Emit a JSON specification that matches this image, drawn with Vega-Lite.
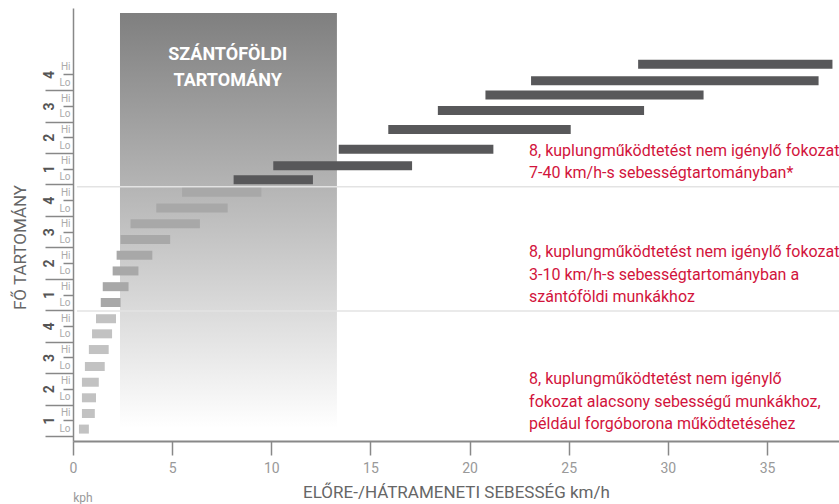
{
  "$schema": "https://vega.github.io/schema/vega-lite/v6.json",
  "width": 766,
  "height": 433,
  "autosize": {"type": "none"},
  "padding": {"left": 73, "top": 8, "right": 0, "bottom": 63},
  "background": "white",
  "config": {"view": {"stroke": null}, "font": "Liberation Sans Narrow, Roboto, sans-serif"},
  "resolve": {"axis": {"x": "independent", "y": "independent"}},
  "layer": [
    {
      "data": {"values": [{"x0": 2.37, "x1": 13.31, "y0": 27.41, "y1": 1.0}]},
      "mark": {"type": "rect", "color": {"gradient": "linear", "x1": 0, "y1": 0, "x2": 0, "y2": 1, "stops": [{"offset": 0, "color": "#7f7f7f"}, {"offset": 1, "color": "#ffffff"}]}},
      "encoding": {
        "x": {"field": "x0", "type": "quantitative", "scale": {"domain": [0, 38.63]},
          "axis": {"orient": "bottom", "values": [0, 5, 10, 15, 20, 25, 30, 35], "title": "ELŐRE-/HÁTRAMENETI SEBESSÉG km/h", "grid": false, "labelFlush": false, "tickSize": 14, "tickColor": "#888", "tickWidth": 1.5, "domainColor": "#888", "domainWidth": 2, "labelColor": "#999", "labelFontSize": 14, "labelPadding": 6, "titleColor": "#666", "titleFontSize": 17, "titleFontWeight": "normal", "titlePadding": 9}},
        "x2": {"field": "x1"},
        "y": {"field": "y0", "type": "quantitative", "scale": {"domain": [0.5, 27.41]},
          "axis": {"orient": "left", "values": [0.5, 2.5, 4.5, 6.5, 8.5, 10.5, 12.5, 14.5, 16.5, 18.5, 20.5, 22.5], "labels": false, "ticks": true, "tickSize": 28, "tickColor": "#888", "tickWidth": 1.5, "domain": false, "grid": false, "title": null}},
        "y2": {"field": "y1"}
      }
    },
    {
      "data": {"values": [{"y": 16.35}, {"y": 8.45}]},
      "mark": {"type": "rule", "color": "#e3e3e3", "strokeWidth": 1.5},
      "encoding": {
        "y": {"field": "y", "type": "quantitative", "scale": {"domain": [0.5, 27.41]},
          "axis": {"orient": "left", "values": [1.5, 3.5, 5.5, 7.5, 9.5, 11.5, 13.5, 15.5, 17.5, 19.5, 21.5, 23.5], "labels": false, "tickSize": 10, "tickColor": "#888", "tickWidth": 1.5, "domain": false, "grid": false, "title": null}},
        "x": {"datum": 0.2, "type": "quantitative", "scale": {"domain": [0, 38.63]}, "axis": null},
        "x2": {"datum": 38.63}
      }
    },
    {
      "data": {"values": [
        {"pos": 24.15, "start": 28.5, "end": 38.3, "sec": "A"},
        {"pos": 23.1, "start": 23.1, "end": 37.6, "sec": "A"},
        {"pos": 22.2, "start": 20.8, "end": 31.8, "sec": "A"},
        {"pos": 21.2, "start": 18.4, "end": 28.8, "sec": "A"},
        {"pos": 20.0, "start": 15.9, "end": 25.1, "sec": "A"},
        {"pos": 18.75, "start": 13.4, "end": 21.2, "sec": "A"},
        {"pos": 17.7, "start": 10.1, "end": 17.1, "sec": "A"},
        {"pos": 16.8, "start": 8.1, "end": 12.1, "sec": "A"},
        {"pos": 16, "start": 5.5, "end": 9.5, "sec": "B"},
        {"pos": 15, "start": 4.2, "end": 7.8, "sec": "B"},
        {"pos": 14, "start": 2.9, "end": 6.4, "sec": "B"},
        {"pos": 13, "start": 2.4, "end": 4.9, "sec": "B"},
        {"pos": 12, "start": 2.2, "end": 4.0, "sec": "B"},
        {"pos": 11, "start": 2.0, "end": 3.3, "sec": "B"},
        {"pos": 10, "start": 1.5, "end": 2.8, "sec": "B"},
        {"pos": 9, "start": 1.4, "end": 2.4, "sec": "B"},
        {"pos": 7.96, "start": 1.16, "end": 2.17, "sec": "C"},
        {"pos": 7.0, "start": 0.96, "end": 1.97, "sec": "C"},
        {"pos": 6.0, "start": 0.8, "end": 1.8, "sec": "C"},
        {"pos": 4.92, "start": 0.6, "end": 1.6, "sec": "C"},
        {"pos": 3.92, "start": 0.45, "end": 1.3, "sec": "C"},
        {"pos": 2.93, "start": 0.45, "end": 1.16, "sec": "C"},
        {"pos": 1.93, "start": 0.45, "end": 1.1, "sec": "C"},
        {"pos": 0.94, "start": 0.3, "end": 0.8, "sec": "C"}
      ]},
      "mark": {"type": "bar", "size": 9},
      "encoding": {
        "y": {"field": "pos", "type": "quantitative", "scale": {"domain": [0.5, 27.41]},
          "axis": {"orient": "left", "values": [1, 2, 3, 4, 5, 6, 7, 8, 9, 10, 11, 12, 13, 14, 15, 16, 17, 18, 19, 20, 21, 22, 23, 24], "labelExpr": "datum.value % 2 == 0 ? 'Hi' : 'Lo'", "ticks": false, "tickSize": 0, "labelPadding": 3, "labelColor": "#aaa", "labelFontSize": 10, "domain": true, "domainColor": "#888", "domainWidth": 1.5, "grid": false, "title": null}},
        "x": {"field": "start", "type": "quantitative", "scale": {"domain": [0, 38.63]}, "axis": null},
        "x2": {"field": "end"},
        "color": {"field": "sec", "type": "nominal", "scale": {"domain": ["A", "B", "C"], "range": ["#58585a", "#a8a8a8", "#c2c2c2"]}, "legend": null}
      }
    },
    {
      "data": {"values": [
        {"x": 23.0, "y": 18.65, "t": "8, kuplungműködtetést nem igénylő fokozat"},
        {"x": 23.0, "y": 17.22, "t": "7-40 km/h-s sebességtartományban*"},
        {"x": 23.0, "y": 12.19, "t": "8, kuplungműködtetést nem igénylő fokozat"},
        {"x": 23.0, "y": 10.76, "t": "3-10 km/h-s sebességtartományban a"},
        {"x": 23.0, "y": 9.33, "t": "szántóföldi munkákhoz"},
        {"x": 23.0, "y": 4.11, "t": "8, kuplungműködtetést nem igénylő"},
        {"x": 23.0, "y": 2.68, "t": "fokozat alacsony sebességű munkákhoz,"},
        {"x": 23.0, "y": 1.25, "t": "például forgóborona működtetéséhez"}
      ]},
      "mark": {"type": "text", "align": "left", "baseline": "middle", "fontSize": 16, "color": "#d2143c"},
      "encoding": {
        "x": {"field": "x", "type": "quantitative", "scale": {"domain": [0, 38.63]}, "axis": null},
        "y": {"field": "y", "type": "quantitative", "scale": {"domain": [0.5, 27.41]},
          "axis": {"orient": "left", "values": [1.5, 3.5, 5.5, 7.5, 9.5, 11.5, 13.5, 15.5, 17.5, 19.5, 21.5, 23.5], "labelExpr": "floor(((datum.value - 0.5) % 8) / 2) + 1", "ticks": false, "tickSize": 0, "labelPadding": 24, "labelAngle": -90, "labelAlign": "center", "labelBaseline": "middle", "labelFontWeight": "bold", "labelFontSize": 14, "labelColor": "#555", "domain": false, "grid": false, "title": "FŐ TARTOMÁNY", "titleFontSize": 17, "titleFontWeight": "normal", "titleColor": "#666", "titlePadding": 13, "titleY": 239}},
        "text": {"field": "t"}
      }
    },
    {
      "data": {"values": [{"x": 7.8, "y": 24.74, "t": "SZÁNTÓFÖLDI"}, {"x": 7.8, "y": 23.06, "t": "TARTOMÁNY"}]},
      "mark": {"type": "text", "align": "center", "baseline": "middle", "fontSize": 18, "fontWeight": "bold", "color": "white"},
      "encoding": {
        "x": {"field": "x", "type": "quantitative", "scale": {"domain": [0, 38.63]}, "axis": null},
        "y": {"field": "y", "type": "quantitative", "scale": {"domain": [0.5, 27.41]}, "axis": null},
        "text": {"field": "t"}
      }
    },
    {
      "data": {"values": [{"x": 0.5, "y": -3.45, "t": "kph"}]},
      "mark": {"type": "text", "align": "center", "baseline": "middle", "fontSize": 12, "color": "#999"},
      "encoding": {
        "x": {"field": "x", "type": "quantitative", "scale": {"domain": [0, 38.63]}, "axis": null},
        "y": {"field": "y", "type": "quantitative", "scale": {"domain": [0.5, 27.41]}, "axis": null},
        "text": {"field": "t"}
      }
    }
  ]
}
